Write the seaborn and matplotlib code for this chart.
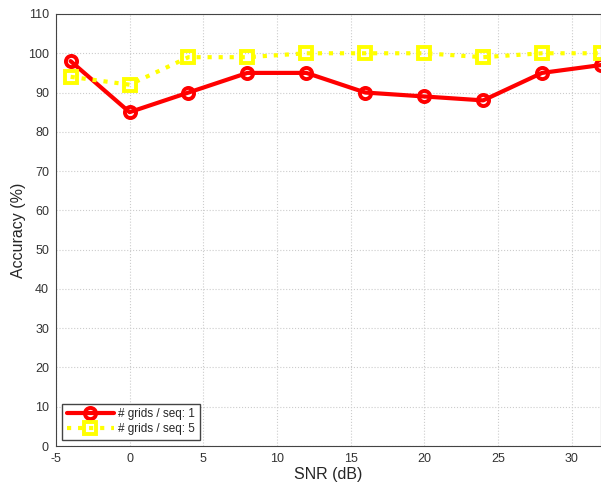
import matplotlib
matplotlib.use("Agg")
import matplotlib.pyplot as plt
import seaborn as sns
import pandas as pd

snr = [-4, 0, 4, 8, 12, 16, 20, 24, 28, 32]
acc_grid1 = [98, 85, 90, 95, 95, 90, 89, 88, 95, 97]
acc_grid5 = [94, 92, 99, 99, 100, 100, 100, 99, 100, 100]
labels = ["# grids / seq: 1", "# grids / seq: 5"]

sns.set_style("whitegrid")
plt.rcParams['font.family'] = ['Liberation Sans', 'DejaVu Sans']
plt.rcParams['axes.unicode_minus'] = False

df1 = pd.DataFrame({"SNR": snr, "Accuracy": acc_grid1})
df5 = pd.DataFrame({"SNR": snr, "Accuracy": acc_grid5})

fig = plt.figure(figsize=(6.01, 4.84), dpi=100)
ax = fig.add_axes([0.093, 0.0785, 0.907, 0.8926])

sns.lineplot(data=df1, x="SNR", y="Accuracy", ax=ax, color="red", linewidth=3,
             marker="o", markersize=8, markerfacecolor="none", markeredgecolor="red",
             markeredgewidth=2.8, label=labels[0], clip_on=False)
sns.lineplot(data=df5, x="SNR", y="Accuracy", ax=ax, color="yellow", linewidth=3,
             linestyle=":", marker="s", markersize=8, markerfacecolor="none",
             markeredgecolor="yellow", markeredgewidth=2.8, label=labels[1], clip_on=False)

ax.set_xlim(-5, 32)
ax.set_ylim(0, 110)
ax.set_xticks(range(-5, 31, 5))
ax.set_yticks(range(0, 111, 10))
ax.tick_params(labelsize=9, length=4, direction="in", colors="#333333", pad=5)
ax.grid(True, color="#cccccc", linestyle=":", linewidth=0.8)
for s in ax.spines.values():
    s.set_color("#444444")
    s.set_linewidth(0.8)
ax.set_xlabel("SNR (dB)", fontsize=11.5)
ax.set_ylabel("Accuracy (%)", fontsize=11.5)
ax.xaxis.set_label_coords(0.5, -0.048)
ax.yaxis.set_label_coords(-0.055, 0.5)
ax.legend(loc="lower left", fontsize=8.5, frameon=True, fancybox=False,
          edgecolor="#444444", framealpha=1, handlelength=4, borderpad=0.4,
          labelspacing=0.25, handletextpad=0.4)

plt.savefig("out.png", dpi=100)
plt.close()
